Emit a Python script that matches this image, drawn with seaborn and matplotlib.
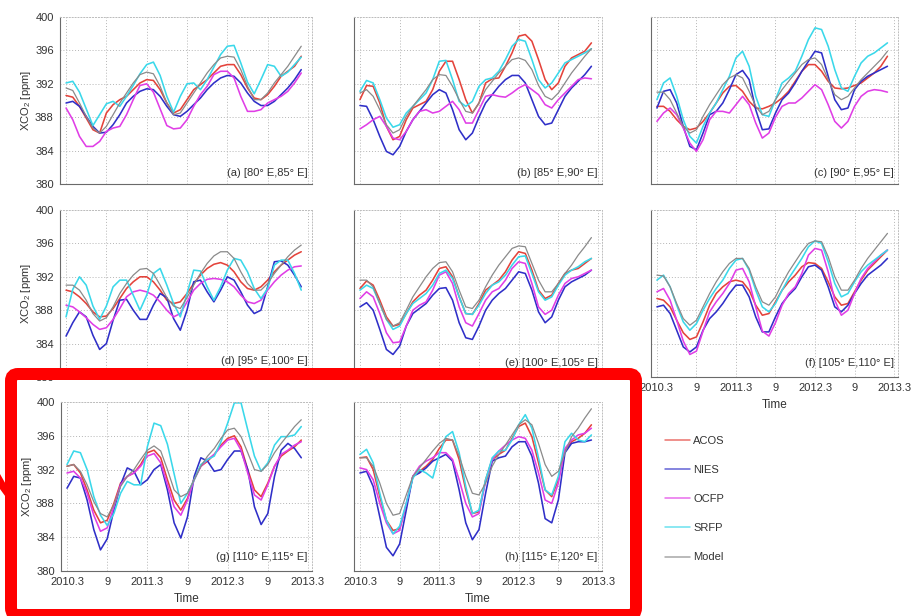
import matplotlib
matplotlib.use("Agg")
import matplotlib.pyplot as plt
import numpy as np
import pandas as pd
import seaborn as sns
from matplotlib.ticker import MultipleLocator, FixedLocator
from matplotlib.patches import FancyBboxPatch, Polygon
from matplotlib.lines import Line2D

# ---------------- data ----------------
months = list(range(36))  # 0 = 2010.3 (March 2010)
x_tick_pos = [0, 6, 12, 18, 24, 30, 36]
x_tick_labels = ["2010.3", "9", "2011.3", "9", "2012.3", "9", "2013.3"]
y_ticks = [380, 384, 388, 392, 396, 400]
series_names = ["ACOS", "NIES", "OCFP", "SRFP", "Model"]
panel_titles = ["(a) [80° E,85° E]", "(b) [85° E,90° E]", "(c) [90° E,95° E]",
                "(d) [95° E,100° E]", "(e) [100° E,105° E]", "(f) [105° E,110° E]",
                "(g) [110° E,115° E]", "(h) [115° E,120° E]"]

ACOS_a = [390.6,390.4,389.3,387.9,386.5,386.1,388.5,389.5,390.1,390.5,391.3,392.1,392.5,392.4,391.3,389.7,388.5,388.9,390.1,391.3,391.9,392.5,393.3,394.1,394.3,394.3,393.1,391.5,390.3,390.1,390.7,391.7,392.9,393.5,394.1,395.3]
NIES_a = [389.7,389.9,389.3,388.1,386.9,386.1,386.2,387.1,388.3,389.7,390.5,391.1,391.4,391.3,390.5,389.3,388.3,388.1,388.7,389.5,390.3,391.3,392.1,392.7,393.0,392.9,392.1,390.9,389.9,389.4,389.4,389.9,390.7,391.5,392.5,393.7]
OCFP_a = [389.1,387.7,385.7,384.5,384.5,385.1,386.3,386.7,386.9,388.3,390.1,391.8,392.0,391.0,389.0,387.0,386.6,386.7,387.7,389.3,390.7,391.7,393.1,393.5,393.5,392.7,390.5,388.7,388.7,388.9,389.7,390.1,390.5,391.1,392.1,393.3]
SRFP_a = [392.1,392.3,391.0,389.0,387.0,388.3,389.6,389.9,389.3,390.5,391.8,393.2,394.3,394.6,393.0,390.5,388.6,390.5,392.0,392.1,391.3,392.5,394.0,395.5,396.5,396.6,394.5,392.2,390.8,392.5,394.3,394.1,392.9,393.4,394.3,395.2]
Model_a = [391.5,391.2,389.7,388.1,386.7,386.1,386.9,388.3,389.7,390.9,392.1,393.1,393.4,393.2,391.7,389.7,388.3,388.5,389.7,390.9,392.1,393.3,394.3,395.1,395.3,395.2,393.7,391.7,390.1,390.1,390.9,392.1,393.1,394.1,395.3,396.5]

ACOS_b = [390.1,391.8,391.7,389.7,386.9,385.3,385.7,387.7,389.1,389.5,389.9,391.3,393.5,394.7,394.7,392.5,390.1,388.5,389.7,392.1,392.6,392.7,394.1,395.7,397.7,397.9,397.1,394.9,392.5,391.3,392.1,394.1,395.1,395.5,395.9,396.9]
NIES_b = [389.4,389.3,387.7,385.7,383.9,383.5,384.5,386.3,387.7,388.7,389.7,390.7,391.3,390.9,388.9,386.5,385.3,386.1,388.0,389.7,390.7,391.7,392.5,393.0,393.0,392.1,390.1,388.1,387.1,387.3,388.9,390.5,391.5,392.3,393.1,394.1]
OCFP_b = [386.6,387.1,387.7,388.1,386.9,385.5,385.3,386.3,387.7,388.7,388.9,388.5,388.7,389.3,389.9,388.9,387.3,387.3,388.9,390.5,390.7,390.5,390.4,390.9,391.5,391.9,391.3,390.7,389.5,389.1,390.1,390.9,391.7,392.5,392.7,392.6]
SRFP_b = [391.1,392.4,392.1,390.1,387.9,386.8,387.1,388.5,389.3,390.1,390.9,392.5,394.7,394.8,392.5,389.9,389.3,389.9,391.7,392.5,392.7,393.5,394.9,396.5,397.3,397.1,394.9,392.5,391.5,392.1,393.3,394.5,394.9,395.3,395.7,396.2]
Model_b = [390.9,391.3,390.5,388.9,387.1,386.1,386.5,388.1,389.3,390.3,391.3,392.5,393.1,393.0,391.7,390.1,388.7,388.5,389.7,391.3,392.3,393.3,394.1,394.9,395.1,394.8,393.7,391.8,390.5,390.1,390.9,392.1,393.3,394.3,395.3,396.2]

ACOS_c = [389.3,389.3,388.7,387.7,386.9,386.5,386.7,387.5,388.5,389.7,390.9,391.7,391.8,391.1,389.9,389.1,389.0,389.3,389.7,390.3,391.1,392.3,393.5,394.3,394.3,393.5,392.3,391.5,391.4,391.5,391.8,392.1,392.7,393.3,394.1,395.3]
NIES_c = [389.1,391.1,391.3,389.7,386.9,384.5,384.1,386.1,388.3,388.7,389.7,391.3,393.1,393.6,392.5,388.9,386.5,386.6,388.5,390.1,390.9,392.1,393.5,394.7,395.9,395.7,392.9,390.1,388.9,389.1,391.3,392.3,392.9,393.3,393.7,394.1]
OCFP_c = [387.5,388.5,389.1,388.3,386.7,384.9,383.9,385.3,387.7,388.7,388.7,388.5,389.5,390.5,389.5,387.3,385.5,386.1,388.0,389.3,389.7,389.7,390.3,391.1,391.9,391.3,389.5,387.5,386.7,387.5,389.3,390.5,391.1,391.3,391.2,391.0]
SRFP_c = [390.1,392.1,392.7,390.5,387.7,385.7,384.9,386.9,388.5,389.7,391.3,392.9,395.1,395.9,394.1,390.5,388.3,388.1,390.1,392.1,392.7,393.5,395.3,397.3,398.7,398.5,396.5,393.7,391.5,391.1,392.9,394.5,395.3,395.7,396.3,396.9]
Model_c = [391.0,391.0,390.1,388.5,386.9,386.1,386.5,388.1,389.5,390.7,391.9,392.7,393.1,392.7,391.1,389.3,388.3,388.7,390.1,391.3,392.3,393.3,394.3,394.9,395.1,394.3,392.5,390.7,390.1,390.5,391.5,392.5,393.3,394.1,394.9,395.9]

ACOS_d = [390.4,390.2,389.6,388.8,387.8,387.2,387.3,388.2,389.4,390.6,391.4,392.0,392.0,391.4,390.4,389.2,388.8,389.0,390.0,391.2,392.2,393.0,393.5,393.7,393.4,392.6,391.4,390.6,390.4,390.8,391.6,392.6,393.4,394.0,394.6,395.0]
NIES_d = [384.9,386.5,387.8,387.2,385.0,383.3,384.0,386.8,389.2,389.3,388.0,386.9,386.9,388.6,390.0,389.5,387.0,385.6,388.0,391.4,391.6,390.2,389.0,390.4,392.0,391.6,390.2,388.6,387.6,388.0,390.8,393.8,393.9,393.4,392.2,390.8]
OCFP_d = [388.6,388.4,387.8,387.1,386.3,385.7,385.9,386.9,388.2,389.6,390.2,390.4,390.2,389.8,389.0,388.0,387.2,387.6,389.0,390.4,391.2,391.7,391.8,391.7,391.4,390.8,389.8,389.0,388.8,389.2,390.4,391.4,392.2,392.8,393.2,393.3]
SRFP_d = [387.2,390.5,392.0,391.0,388.5,386.9,388.5,390.8,391.6,391.6,389.8,388.0,389.8,392.4,393.0,391.0,388.8,387.2,390.0,392.8,392.7,390.8,389.2,390.8,392.8,394.2,394.0,392.6,390.6,389.4,390.6,393.4,394.0,394.0,392.4,390.4]
Model_d = [391.0,391.0,390.4,389.2,387.6,386.7,387.1,388.4,390.0,391.2,392.2,392.9,393.0,392.4,391.0,389.5,388.5,388.2,389.5,391.0,392.4,393.6,394.5,395.0,395.0,394.2,392.6,391.2,390.4,390.4,391.2,392.4,393.4,394.4,395.2,395.8]

ACOS_e = [390.6,391.5,391.0,389.2,387.2,386.1,386.3,387.6,389.0,389.8,390.4,391.6,393.0,393.2,392.0,389.6,387.6,387.5,388.8,390.4,391.0,391.6,392.6,394.0,395.0,394.8,392.8,390.4,389.4,389.8,391.2,392.4,392.8,393.0,393.6,394.2]
NIES_e = [388.4,388.9,388.0,385.7,383.3,382.7,383.7,386.1,387.6,388.2,388.8,389.8,390.6,390.7,389.2,386.5,384.7,384.5,386.1,388.0,389.2,390.0,390.6,391.6,392.6,392.4,390.4,387.8,386.5,387.2,389.2,390.8,391.4,391.8,392.2,392.8]
OCFP_e = [389.4,390.2,389.6,387.6,385.3,384.1,384.2,386.1,388.0,388.6,389.0,390.4,392.2,392.6,391.2,388.4,386.5,386.1,387.6,389.2,390.2,390.6,391.6,393.0,393.8,393.6,391.2,388.4,387.5,388.0,389.8,391.2,391.8,392.0,392.4,392.8]
SRFP_e = [390.4,391.0,390.6,388.8,386.9,385.7,386.1,387.6,388.8,389.4,390.0,391.0,392.4,392.8,391.8,389.6,387.6,387.5,388.6,390.0,391.0,391.4,392.2,393.4,394.4,394.5,392.4,390.2,389.2,389.6,391.0,392.2,392.8,393.2,393.8,394.2]
Model_e = [391.6,391.6,390.8,388.8,386.9,386.1,386.5,388.0,389.6,390.8,392.0,393.0,393.7,393.8,392.6,390.4,388.4,388.2,389.2,390.8,392.2,393.4,394.4,395.4,395.7,395.6,393.6,391.6,390.2,390.2,391.2,392.4,393.4,394.6,395.6,396.7]

ACOS_f = [389.4,389.2,388.4,386.8,385.3,384.5,384.8,386.6,388.6,390.0,390.8,391.4,391.6,391.4,390.4,388.6,387.4,387.6,389.0,390.4,391.4,392.2,393.2,393.7,393.6,393.0,391.4,389.6,388.6,388.8,390.2,391.6,392.8,393.6,394.4,395.2]
NIES_f = [388.4,388.6,387.6,385.6,383.6,383.0,383.6,385.6,387.0,387.8,388.8,390.0,391.0,391.0,389.6,387.2,385.4,385.4,387.2,388.8,389.8,390.6,392.0,393.2,393.4,392.8,390.8,388.4,387.8,388.6,390.0,391.2,392.2,392.8,393.4,394.2]
OCFP_f = [390.2,390.6,389.2,386.8,384.3,382.7,383.1,385.5,387.8,389.0,390.0,391.2,392.8,393.0,391.4,388.4,385.5,384.9,386.5,388.6,390.0,390.8,392.4,394.6,395.4,395.2,392.6,389.2,387.4,388.0,390.0,391.8,393.0,393.8,394.6,395.2]
SRFP_f = [391.6,392.2,390.8,388.6,386.6,385.6,386.4,388.0,389.4,390.6,391.6,393.0,394.0,394.2,392.8,390.4,388.4,387.8,388.8,390.4,391.8,393.0,394.2,395.6,396.3,396.0,393.8,391.2,389.6,390.0,391.4,392.6,393.4,394.0,394.6,395.2]
Model_f = [392.2,392.1,390.8,388.8,387.0,386.2,386.8,388.4,390.0,391.4,392.6,393.6,394.2,394.2,393.0,390.8,389.0,388.6,389.6,391.2,392.6,393.8,395.0,396.0,396.3,396.2,394.4,392.0,390.4,390.4,391.6,393.0,394.2,395.2,396.2,397.2]

ACOS_g = [392.4,392.6,391.6,389.6,387.2,385.7,386.0,388.0,390.4,391.2,391.6,392.6,394.0,394.3,393.4,390.8,388.4,387.2,388.6,391.0,392.4,393.0,393.8,394.9,395.7,396.0,394.7,392.0,389.6,388.8,390.4,392.4,393.6,394.2,394.7,395.5]
NIES_g = [389.8,391.2,391.0,388.4,384.9,382.5,383.8,387.2,390.2,392.2,391.8,390.2,390.8,392.0,392.6,389.6,385.7,383.9,386.4,391.2,393.4,393.0,391.8,392.0,393.2,394.2,394.2,392.0,387.6,385.5,386.8,391.2,394.3,395.1,394.5,393.4]
OCFP_g = [391.6,391.8,391.0,389.2,386.6,384.7,385.1,387.6,390.2,391.2,391.6,392.4,393.6,393.9,392.8,390.2,387.6,386.6,388.4,390.8,392.4,393.2,393.8,394.7,395.5,395.7,394.3,391.6,389.0,388.4,390.2,392.4,393.8,394.3,394.9,395.3]
SRFP_g = [392.6,394.2,394.0,392.0,388.8,386.6,385.4,386.8,389.2,390.6,390.2,390.2,394.7,397.5,397.2,395.0,391.5,388.0,389.2,390.8,392.6,393.2,393.6,395.3,397.5,399.9,399.9,396.7,393.6,391.8,392.8,394.9,395.9,395.9,396.1,397.1]
Model_g = [392.4,392.6,391.8,390.2,388.2,386.8,386.4,387.8,390.0,391.2,392.0,393.2,394.3,394.8,394.2,392.0,389.6,388.8,389.2,390.8,392.4,393.6,394.5,395.7,396.7,396.9,395.9,394.0,392.0,391.8,392.6,394.0,395.1,396.1,397.1,397.9]

ACOS_h = [393.4,393.5,392.0,388.8,386.0,384.8,385.0,387.8,391.2,391.8,392.4,393.2,394.5,395.5,395.5,393.2,389.6,386.8,387.0,390.8,393.2,393.8,394.3,395.7,397.1,397.5,395.9,392.8,389.6,388.8,390.8,394.3,395.3,395.7,396.3,397.3]
NIES_h = [391.6,391.8,390.0,386.4,382.8,381.8,383.2,387.2,391.2,391.6,392.2,393.0,393.4,393.8,393.0,389.6,385.7,383.7,384.9,389.2,393.0,393.4,393.6,394.7,395.3,395.3,393.6,390.4,386.2,385.7,388.4,394.0,395.1,395.3,395.3,395.5]
OCFP_h = [392.2,392.0,390.8,388.0,385.7,384.4,384.8,388.0,391.2,392.4,393.0,393.4,394.0,394.0,393.2,390.8,388.0,386.4,386.8,390.6,393.2,394.2,394.9,395.5,395.9,395.7,394.3,391.6,388.4,388.0,390.4,394.5,395.5,396.1,396.3,396.9]
SRFP_h = [393.8,394.4,392.8,389.2,386.0,384.4,385.3,388.0,391.0,392.0,391.6,391.0,393.8,395.9,396.5,394.0,390.0,386.8,387.2,390.8,393.4,394.2,394.3,395.5,397.3,398.5,396.9,393.4,389.6,389.0,391.2,395.3,396.3,395.5,395.3,396.1]
Model_h = [393.4,393.4,392.4,390.4,388.0,386.6,386.8,389.0,391.2,392.2,393.2,394.2,395.1,395.7,395.5,393.6,391.2,389.2,389.0,390.4,392.4,393.8,394.9,396.1,397.3,397.9,397.3,395.1,392.6,391.2,391.8,394.0,395.9,396.9,398.1,399.2]

panels = {
    "a": [ACOS_a, NIES_a, OCFP_a, SRFP_a, Model_a],
    "b": [ACOS_b, NIES_b, OCFP_b, SRFP_b, Model_b],
    "c": [ACOS_c, NIES_c, OCFP_c, SRFP_c, Model_c],
    "d": [ACOS_d, NIES_d, OCFP_d, SRFP_d, Model_d],
    "e": [ACOS_e, NIES_e, OCFP_e, SRFP_e, Model_e],
    "f": [ACOS_f, NIES_f, OCFP_f, SRFP_f, Model_f],
    "g": [ACOS_g, NIES_g, OCFP_g, SRFP_g, Model_g],
    "h": [ACOS_h, NIES_h, OCFP_h, SRFP_h, Model_h],
}

# ---------------- style ----------------
colors = {"ACOS": "#e4433b", "NIES": "#2f2fc8", "OCFP": "#e03ee6",
          "SRFP": "#3ad8ea", "Model": "#8a8a8a"}
widths = {"ACOS": 1.15, "NIES": 1.15, "OCFP": 1.15, "SRFP": 1.15, "Model": 0.9}

sns.set_style("white")
plt.rcParams['font.family'] = ['Liberation Sans', 'DejaVu Sans']
plt.rcParams['mathtext.fontset'] = 'custom'
plt.rcParams['mathtext.rm'] = 'Liberation Sans'
plt.rcParams['mathtext.it'] = 'Liberation Sans:italic'

W, H = 914, 616
fig = plt.figure(figsize=(W / 100, H / 100), dpi=100)
fig.patch.set_facecolor("white")

# axes rectangles in pixels: left, top, right, bottom
boxes = {"a": (60, 17, 312, 184), "b": (354, 17, 602, 184), "c": (651, 17, 898, 184),
         "d": (60, 210, 312, 377), "e": (354, 210, 602, 377), "f": (651, 210, 898, 377),
         "g": (61, 402, 312, 571), "h": (354, 402, 602, 571)}
title_y = {"a": 0.05, "b": 0.05, "c": 0.05, "d": 0.075, "e": 0.065, "f": 0.065,
           "g": 0.065, "h": 0.065}
ylabel_cols = {"a", "d", "g"}
xlabel_panels = {"f", "g", "h"}

for i, key in enumerate("abcdefgh"):
    l, t, r, b = boxes[key]
    ax = fig.add_axes([l / W, 1 - b / H, (r - l) / W, (b - t) / H])
    rows = []
    for name, vals in zip(series_names, panels[key]):
        rows.append(pd.DataFrame({"month": months, "XCO2": vals, "Series": name}))
    df = pd.concat(rows, ignore_index=True)
    for name in series_names:
        sub = df[df["Series"] == name]
        sns.lineplot(data=sub, x="month", y="XCO2", color=colors[name],
                     linewidth=widths[name], ax=ax, legend=False, estimator=None)
    ax.set_xlim(-0.9, 36.6)
    ax.set_ylim(380, 400)
    ax.xaxis.set_major_locator(FixedLocator(x_tick_pos))
    ax.xaxis.set_minor_locator(MultipleLocator(2))
    ax.yaxis.set_major_locator(FixedLocator(y_ticks))
    ax.yaxis.set_minor_locator(MultipleLocator(2))
    ax.grid(True, which="major", linestyle=(0, (1, 2)), color="#b5b5b5", linewidth=0.7)
    ax.set_axisbelow(True)
    for s in ["left", "bottom"]:
        ax.spines[s].set_color("#6a6a6a")
        ax.spines[s].set_linewidth(0.8)
    for s in ["top", "right"]:
        ax.spines[s].set_color("#bdbdbd")
        ax.spines[s].set_linestyle((0, (1, 2)))
        ax.spines[s].set_linewidth(0.7)
    ax.tick_params(which="major", direction="out", length=3, width=0.6,
                   color="#6a6a6a", labelsize=8, labelcolor="#333333", pad=1.5)
    ax.tick_params(which="minor", direction="out", length=2, width=0.5, color="#6a6a6a")
    ax.set_xticklabels(x_tick_labels)
    ax.set_xlabel("")
    ax.set_ylabel("")
    if key in ylabel_cols:
        ax.set_ylabel(r"XCO$_\mathregular{2}$ [ppm]", fontsize=8, color="#333333")
        ax.yaxis.set_label_coords(-0.108, 0.5)
    else:
        ax.tick_params(labelleft=False)
    if key in xlabel_panels:
        ax.set_xlabel("Time", fontsize=8.5, color="#333333")
        ax.xaxis.set_label_coords(0.5, -0.13)
    else:
        ax.tick_params(labelbottom=False)
    ax.text(0.982, title_y[key], panel_titles[i], transform=ax.transAxes, ha="right",
            va="baseline", fontsize=8, color="#333333")

# legend in the empty 9th cell
handles = [Line2D([0], [0], color=colors[n], lw=1.1, alpha=0.75) for n in series_names]
fig.legend(handles, series_names, loc="upper left",
           bbox_to_anchor=(665 / W, 1 - 436 / H), frameon=False, fontsize=8,
           handlelength=2.25, handletextpad=0.3, labelspacing=1.72,
           borderpad=0, borderaxespad=0, labelcolor="#333333")

# red highlight box overlay
ov = fig.add_axes([0, 0, 1, 1], zorder=20)
ov.set_xlim(0, W)
ov.set_ylim(H, 0)
ov.axis("off")
ov.patch.set_alpha(0)
box = FancyBboxPatch((11, 374), 625, 241, boxstyle="round,pad=0,rounding_size=7",
                     fill=False, edgecolor="#ff0000", linewidth=12 * 0.72)
ov.add_patch(box)
ov.add_patch(Polygon([(0, 474), (8, 488), (8, 500), (0, 489)], closed=True,
                     facecolor="#ff0000", edgecolor="none"))

fig.savefig("out.png", dpi=100, facecolor="white")
